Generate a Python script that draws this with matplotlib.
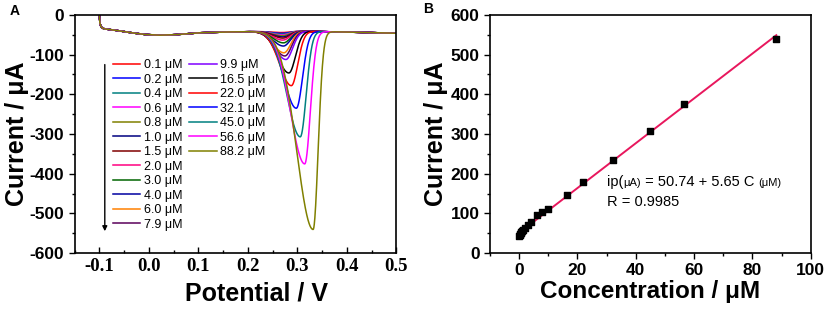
import numpy as np
import matplotlib
matplotlib.use("Agg")
import matplotlib.pyplot as plt
from matplotlib.offsetbox import TextArea, HPacker, AnchoredOffsetbox

plt.rcParams['font.family'] = ['Liberation Sans', 'DejaVu Sans']
plt.rcParams['axes.unicode_minus'] = False

# concentrations (uM) and peak currents (uA)
conc = [0.1, 0.2, 0.4, 0.6, 0.8, 1.0, 1.5, 2.0, 3.0, 4.0, 6.0, 7.9,
        9.9, 16.5, 22.0, 32.1, 45.0, 56.6, 88.2]
peak_current = [44, 46, 48, 50, 52, 55, 58, 63, 70, 78, 95, 103,
                112, 146, 178, 235, 307, 375, 540]
peak_potential = [0.270, 0.270, 0.270, 0.270, 0.270, 0.271, 0.271, 0.271, 0.272, 0.272,
                  0.273, 0.275, 0.277, 0.283, 0.288, 0.298, 0.306, 0.315, 0.332]
colors = ['#FF0000', '#0000FF', '#008080', '#FF00FF', '#808000', '#000080', '#800000',
          '#FF0080', '#006400', '#0000A0', '#FF8000', '#5A005A', '#8000FF', '#000000',
          '#FF0000', '#0000FF', '#008080', '#FF00FF', '#808000']

# background of the DPV scans
base_x = [-0.1, -0.099, -0.097, -0.094, -0.09, -0.07, -0.04, -0.01, 0.02, 0.05, 0.1,
          0.15, 0.2, 0.3, 0.4, 0.5]
base_y = [0, -20, -29, -33, -35, -38, -44, -49, -51, -50, -45, -43, -42, -41, -43, -46]

fit_a, fit_b = 50.74, 5.65

fig = plt.figure(figsize=(8.29, 3.12), dpi=100)
axA = fig.add_axes([0.090, 0.189, 0.388, 0.763])
axB = fig.add_axes([0.591, 0.189, 0.387, 0.763])

# ---- panel A
E = np.linspace(-0.1, 0.5, 1500)
bg = np.interp(E, base_x, base_y)
lines = []
for c, ip, ep, col in zip(conc, peak_current, peak_potential, colors):
    amp = ip - 41
    sl = 0.020 + 0.013 * amp / 500
    sr = 0.014 - 0.004 * amp / 500
    s = np.where(E < ep, sl, sr)
    y = bg - amp * np.exp(-(E - ep) ** 2 / (2 * s ** 2))
    ln, = axA.plot(E, y, color=col, lw=1.1, label='%.1f μM' % c)
    lines.append(ln)

axA.set_xlim(-0.15, 0.5)
axA.set_ylim(-600, 0)
axA.set_xticks(np.arange(-0.1, 0.51, 0.1))
axA.set_xticks(np.arange(-0.15, 0.51, 0.05), minor=True)
axA.set_yticks(np.arange(-600, 1, 100))
axA.set_yticks(np.arange(-600, 1, 50), minor=True)
axA.tick_params(axis='x', which='both', direction='in', length=4, width=1)
axA.tick_params(axis='x', which='minor', length=2.5)
axA.tick_params(axis='y', which='both', direction='out', length=4, width=1)
axA.tick_params(axis='y', which='minor', length=2.5)
axA.set_xticklabels(['-0.1', '0.0', '0.1', '0.2', '0.3', '0.4', '0.5'],
                    family='Liberation Serif', fontweight='bold', fontsize=13.5)
for t in axA.get_yticklabels():
    t.set_fontweight('bold')
    t.set_fontsize(12.5)
axA.set_xlabel('Potential / V', fontsize=18, fontweight='bold')
axA.xaxis.set_label_coords(0.565, -0.12)
axA.set_ylabel('Current / μA', fontsize=18, fontweight='bold', labelpad=0)
axA.annotate('', xy=(-0.089, -552), xytext=(-0.089, -118),
             arrowprops=dict(arrowstyle='-|>', color='black', lw=1, mutation_scale=7))
legkw = dict(loc='upper left', frameon=False, fontsize=9, handlelength=2.2,
             handletextpad=0.3, labelspacing=0.2, borderpad=0, borderaxespad=0)
leg1 = axA.legend(handles=lines[:12], bbox_to_anchor=(0.118, 0.815), **legkw)
axA.add_artist(leg1)
axA.legend(handles=lines[12:], bbox_to_anchor=(0.356, 0.815), **legkw)
for sp in axA.spines.values():
    sp.set_linewidth(1.2)

# ---- panel B
xf = np.array([0, conc[-1]])
axB.plot(xf, fit_a + fit_b * xf, color='#E8175D', lw=1.4)
axB.scatter(conc, peak_current, marker='s', s=18, color='black', zorder=3)
axB.set_xlim(-10, 100)
axB.set_ylim(0, 600)
axB.set_xticks(np.arange(0, 101, 20))
axB.set_xticks(np.arange(-10, 101, 10), minor=True)
axB.set_yticks(np.arange(0, 601, 100))
axB.set_yticks(np.arange(0, 601, 50), minor=True)
axB.tick_params(which='both', direction='out', length=4, width=1)
axB.tick_params(which='minor', length=2.5)
for t in axB.get_xticklabels() + axB.get_yticklabels():
    t.set_fontweight('bold')
    t.set_fontsize(12.5)
axB.set_xlabel('Concentration / μM', fontsize=17.5, fontweight='bold', labelpad=1)
axB.set_ylabel('Current / μA', fontsize=18, fontweight='bold', labelpad=2)

big = dict(fontsize=10.5, color='black')
small = dict(fontsize=8, color='black')
pieces = [TextArea('ip(', textprops=big), TextArea('μA)', textprops=small),
          TextArea(' = 50.74 + 5.65 C ', textprops=big), TextArea('(μM)', textprops=small)]
eq = HPacker(children=pieces, align='baseline', pad=0, sep=0)
row2 = TextArea('R = 0.9985', textprops=big)
for box, yy in [(eq, 0.30), (row2, 0.215)]:
    ab = AnchoredOffsetbox(loc='center left', child=box, frameon=False, pad=0,
                           borderpad=0, bbox_to_anchor=(0.365, yy),
                           bbox_transform=axB.transAxes)
    axB.add_artist(ab)
for sp in axB.spines.values():
    sp.set_linewidth(1.2)

fig.text(0.012, 0.965, 'A', fontsize=10, fontweight='bold', va='center')
fig.text(0.511, 0.972, 'B', fontsize=10, fontweight='bold', va='center')

fig.savefig('out.png', dpi=100)
